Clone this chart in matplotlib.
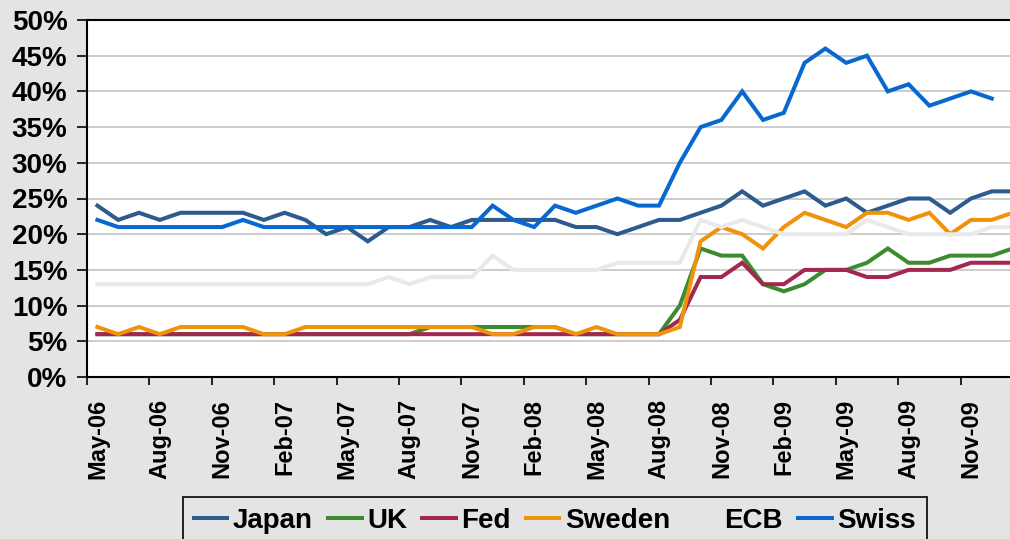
import matplotlib

matplotlib.use("Agg")
import matplotlib.pyplot as plt
import numpy as np
import pandas as pd

# monthly categories May-06 .. Jan-10
months = pd.date_range("2006-05-01", periods=45, freq="MS")
tick_labels = ["May-06", "Aug-06", "Nov-06", "Feb-07", "May-07", "Aug-07", "Nov-07",
               "Feb-08", "May-08", "Aug-08", "Nov-08", "Feb-09", "May-09", "Aug-09", "Nov-09"]

japan = [24, 22, 23, 22, 23, 23, 23, 23, 22, 23, 22, 20, 21, 19, 21,
         21, 22, 21, 22, 22, 22, 22, 22, 21, 21, 20, 21, 22, 22, 23,
         24, 26, 24, 25, 26, 24, 25, 23, 24, 25, 25, 23, 25, 26, 26]
uk = [6, 6, 6, 6, 6, 6, 6, 6, 6, 6, 6, 6, 6, 6, 6,
      6, 7, 7, 7, 7, 7, 7, 7, 6, 6, 6, 6, 6, 10, 18,
      17, 17, 13, 12, 13, 15, 15, 16, 18, 16, 16, 17, 17, 17, 18]
fed = [6, 6, 6, 6, 6, 6, 6, 6, 6, 6, 6, 6, 6, 6, 6,
       6, 6, 6, 6, 6, 6, 6, 6, 6, 6, 6, 6, 6, 8, 14,
       14, 16, 13, 13, 15, 15, 15, 14, 14, 15, 15, 15, 16, 16, 16]
sweden = [7, 6, 7, 6, 7, 7, 7, 7, 6, 6, 7, 7, 7, 7, 7,
          7, 7, 7, 7, 6, 6, 7, 7, 6, 7, 6, 6, 6, 7, 19,
          21, 20, 18, 21, 23, 22, 21, 23, 23, 22, 23, 20, 22, 22, 23]
ecb = [13, 13, 13, 13, 13, 13, 13, 13, 13, 13, 13, 13, 13, 13, 14,
       13, 14, 14, 14, 17, 15, 15, 15, 15, 15, 16, 16, 16, 16, 22,
       21, 22, 21, 20, 20, 20, 20, 22, 21, 20, 20, 20, 20, 21, 21]
swiss = [22, 21, 21, 21, 21, 21, 21, 22, 21, 21, 21, 21, 21, 21, 21,
         21, 21, 21, 21, 24, 22, 21, 24, 23, 24, 25, 24, 24, 30, 35,
         36, 40, 36, 37, 44, 46, 44, 45, 40, 41, 38, 39, 40, 39, np.nan]

series = [("Japan", japan, "#2c5b8e"), ("UK", uk, "#3d8b2f"), ("Fed", fed, "#a3284f"),
          ("Sweden", sweden, "#f0930c"), ("ECB", ecb, "#e9e9e9"), ("Swiss", swiss, "#0868cf")]

BG = "#e4e4e4"
plt.rcParams["font.family"] = ["Liberation Sans", "DejaVu Sans"]
plt.rcParams["font.weight"] = "bold"

fig = plt.figure(figsize=(10.1, 5.39), dpi=100, facecolor=BG)
ax = fig.add_axes([87 / 1010, 162 / 539, (1023 - 87) / 1010, (377 - 20) / 539])
ax.set_facecolor("white")

x = np.arange(len(months))
for name, vals, color in series:
    ax.plot(x, np.asarray(vals, dtype=float) / 100, color=color, linewidth=2.9,
            label=name, solid_joinstyle="miter")

ax.set_xlim(-0.5, len(months) - 0.5)
ax.set_ylim(0, 0.5)
ax.set_yticks(np.arange(0, 0.51, 0.05))
ax.set_yticklabels([f"{v}%" for v in range(0, 51, 5)])
ax.yaxis.grid(True, color="#c4c4c4", linewidth=1.2)
ax.set_axisbelow(True)

# labels at category centres, tick marks between categories
ax.set_xticks(x[::3])
ax.set_xticklabels(tick_labels, rotation=90, va="top", ha="center")
ax.set_xticks(np.arange(-0.5, len(months), 3), minor=True)
ax.tick_params(axis="x", which="major", length=0, pad=16, labelsize=17)
ax.tick_params(axis="x", which="minor", length=6, width=1.2, direction="out")
ax.tick_params(axis="y", length=7, width=1.2, pad=7, labelsize=20)

for side in ["left", "bottom", "top", "right"]:
    ax.spines[side].set_color("black")
    ax.spines[side].set_linewidth(1.5)

leg = fig.legend(loc="upper left", bbox_to_anchor=(183 / 1010, 1 - 497 / 539), ncol=6,
                 fontsize=20, frameon=True, fancybox=False, edgecolor="black",
                 facecolor=BG, framealpha=1, handlelength=1.2, handletextpad=0.2,
                 columnspacing=0.55, borderpad=0.4, borderaxespad=0)
leg.get_frame().set_linewidth(1.2)
for line, (name, _, color) in zip(leg.get_lines(), series):
    line.set_linewidth(2.9)
    if name == "ECB":
        # the pale ECB key disappears against the grey legend box
        line.set_color(BG)

fig.savefig("out.png", dpi=100, facecolor=BG)
